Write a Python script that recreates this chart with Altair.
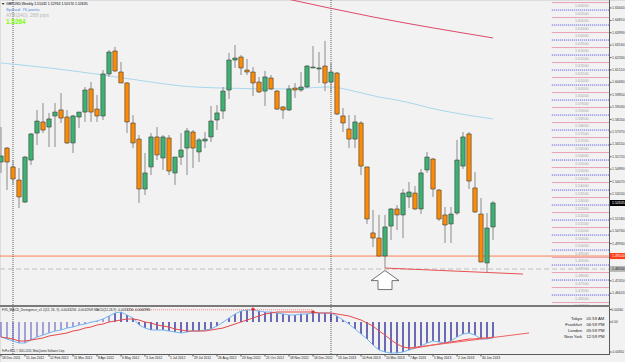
import altair as alt
import pandas as pd

# ---------------- data (bar 0 = week of 18 Dec 2011, weekly bars) ----------------
OPEN = [1.5537, 1.5630, 1.5504, 1.5417, 1.5270, 1.5550, 1.5730, 1.5804, 1.5770, 1.5844,
        1.5884, 1.5837, 1.5664, 1.5837, 1.5870, 1.6024, 1.5890, 1.5844, 1.6124, 1.6277,
        1.6137, 1.6064, 1.5797, 1.5690, 1.5357, 1.5504, 1.5704, 1.5564, 1.5697, 1.5464,
        1.5570, 1.5630, 1.5737, 1.5604, 1.5677, 1.5704, 1.5817, 1.5877, 1.6017, 1.6217,
        1.6237, 1.6150, 1.6137, 1.6070, 1.6010, 1.6097, 1.6010, 1.5904, 1.5884, 1.6030,
        1.6017, 1.6037, 1.6164, 1.6157, 1.6177, 1.6070, 1.6130, 1.5844, 1.5757, 1.5690,
        1.5797, 1.5504, 1.5064, 1.5030, 1.4910, 1.5110, 1.5224, 1.5184, 1.5304, 1.5330,
        1.5224, 1.5484, 1.5557, 1.5350, 1.5184, 1.5124, 1.5197, 1.5510, 1.5724, 1.5364,
        1.5190, 1.4864, 1.5104]
HIGH = [1.5770, 1.5637, 1.5550, 1.5497, 1.5577, 1.5730, 1.5884, 1.5930, 1.5864, 1.5930,
        1.5997, 1.5884, 1.5850, 1.5870, 1.6037, 1.6070, 1.5984, 1.6150, 1.6284, 1.6304,
        1.6204, 1.6070, 1.5850, 1.5717, 1.5597, 1.5730, 1.5770, 1.5717, 1.5717, 1.5570,
        1.5730, 1.5764, 1.5750, 1.5697, 1.5737, 1.5910, 1.5917, 1.6037, 1.6264, 1.6317,
        1.6250, 1.6224, 1.6170, 1.6104, 1.6144, 1.6117, 1.6017, 1.5910, 1.6050, 1.6064,
        1.6137, 1.6184, 1.6310, 1.6270, 1.6344, 1.6197, 1.6137, 1.5897, 1.5850, 1.5850,
        1.5810, 1.5504, 1.5217, 1.5184, 1.5184, 1.5230, 1.5250, 1.5357, 1.5404, 1.5377,
        1.5490, 1.5604, 1.5564, 1.5357, 1.5237, 1.5237, 1.5684, 1.5737, 1.5737, 1.5470,
        1.5297, 1.5197, 1.5277]
LOW = [1.5464, 1.5350, 1.5384, 1.5230, 1.5264, 1.5517, 1.5650, 1.5730, 1.5637, 1.5637,
       1.5797, 1.5657, 1.5597, 1.5764, 1.5804, 1.5804, 1.5804, 1.5817, 1.6104, 1.6137,
       1.6064, 1.5730, 1.5630, 1.5264, 1.5317, 1.5450, 1.5550, 1.5484, 1.5450, 1.5384,
       1.5517, 1.5450, 1.5497, 1.5537, 1.5630, 1.5670, 1.5750, 1.5824, 1.5957, 1.6164,
       1.6117, 1.6117, 1.5977, 1.5997, 1.5910, 1.6017, 1.5884, 1.5824, 1.5877, 1.5964,
       1.6004, 1.6030, 1.6164, 1.6064, 1.6010, 1.5997, 1.5850, 1.5737, 1.5630, 1.5630,
       1.5450, 1.5124, 1.4970, 1.4910, 1.4830, 1.5017, 1.5084, 1.5030, 1.5230, 1.5217,
       1.5190, 1.5464, 1.5304, 1.5144, 1.4997, 1.4997, 1.5184, 1.5490, 1.5357, 1.5197,
       1.4870, 1.4797, 1.5017]
CLOSE = [1.5577, 1.5537, 1.5424, 1.5304, 1.5570, 1.5724, 1.5810, 1.5750, 1.5824, 1.5870,
         1.5830, 1.5664, 1.5844, 1.5870, 1.6017, 1.5870, 1.5844, 1.6124, 1.6270, 1.6144,
         1.6064, 1.5804, 1.5664, 1.5357, 1.5464, 1.5704, 1.5584, 1.5704, 1.5477, 1.5570,
         1.5617, 1.5744, 1.5630, 1.5684, 1.5690, 1.5810, 1.5864, 1.6010, 1.6217, 1.6230,
         1.6164, 1.6137, 1.6064, 1.6004, 1.6104, 1.6024, 1.5890, 1.5884, 1.6024, 1.6017,
         1.6037, 1.6177, 1.6170, 1.6164, 1.6064, 1.6137, 1.5857, 1.5797, 1.5690, 1.5804,
         1.5510, 1.5157, 1.5030, 1.4910, 1.5104, 1.5224, 1.5184, 1.5330, 1.5337, 1.5224,
         1.5464, 1.5570, 1.5357, 1.5157, 1.5117, 1.5190, 1.5550, 1.5704, 1.5410, 1.5204,
         1.4870, 1.5097, 1.5264]

MA_SLOW_BAR = [0, 8, 17, 25, 30, 37, 47, 55, 58, 63, 66, 73, 82]
MA_SLOW_VAL = [1.6197, 1.6164, 1.6117, 1.6070, 1.6044, 1.6030, 1.6024, 1.6037, 1.6017,
               1.5970, 1.5950, 1.5884, 1.5824]
MA_TOP_BAR = [47, 62, 82]
MA_TOP_VAL = [1.6630, 1.6504, 1.6364]
TREND_BAR = [64, 87]
TREND_VAL = [1.4830, 1.4790]
HLINE_ORANGE = [1.4910]
HLINE_GREY = [1.4824]
ARROW_BAR = [64]
ARROW_VAL = [1.4750]
YEAR_SEPARATORS = [2, 55]

LEVELS_SOLID = [1.46, 1.47, 1.48, 1.49, 1.50, 1.51, 1.52, 1.53, 1.54, 1.55, 1.56,
                1.57, 1.58, 1.59, 1.60, 1.61, 1.62, 1.63, 1.64, 1.65, 1.66]
LEVELS_DOTTED = [1.465, 1.475, 1.485, 1.495, 1.505, 1.515, 1.525, 1.535, 1.545, 1.555,
                 1.565, 1.575, 1.585, 1.595, 1.605, 1.615, 1.625, 1.635, 1.645, 1.655]

PRICE_TICKS = [1.6564, 1.6481, 1.6399, 1.6316, 1.6233, 1.6151, 1.6068, 1.5985, 1.5903,
               1.5820, 1.5737, 1.5655, 1.5572, 1.5489, 1.5407, 1.5324, 1.5158, 1.5076,
               1.4993, 1.4745, 1.4662]
TAG_PRICES = [1.52635, 1.4910, 1.4824]
TAG_TEXTS = ["1.52635", "1.49100", "1.48240"]

DATE_TICK_BARS = [0, 4, 8, 12, 16, 20, 24, 28, 32, 36, 40, 44, 48, 52, 56, 60, 64, 68, 72, 76, 80]
DATE_LABELS = ["18 Dec 2011", "15 Jan 2012", "12 Feb 2012", "11 Mar 2012", "8 Apr 2012",
               "6 May 2012", "3 Jun 2012", "1 Jul 2012", "29 Jul 2012", "26 Aug 2012",
               "23 Sep 2012", "21 Oct 2012", "18 Nov 2012", "16 Dec 2012", "13 Jan 2013",
               "10 Feb 2013", "10 Mar 2013", "7 Apr 2013", "5 May 2013", "2 Jun 2013",
               "30 Jun 2013"]

MACD = [-0.00405, -0.00459, -0.00513, -0.00567, -0.00567, -0.00486, -0.00405, -0.00351, -0.00297, -0.00243,
        -0.00216, -0.00162, -0.00135, -0.00081, -0.00054, -0.00005, 0.00027, 0.00081, 0.00162, 0.00243,
        0.00270, 0.00189, 0.00108, -0.00081, -0.00162, -0.00216, -0.00216, -0.00216, -0.00243, -0.00270,
        -0.00297, -0.00270, -0.00243, -0.00243, -0.00216, -0.00189, -0.00108, -0.00005, 0.00108, 0.00216,
        0.00297, 0.00324, 0.00324, 0.00297, 0.00270, 0.00270, 0.00243, 0.00216, 0.00189, 0.00189,
        0.00216, 0.00216, 0.00243, 0.00243, 0.00243, 0.00243, 0.00162, 0.00054, -0.00054, -0.00189,
        -0.00324, -0.00459, -0.00621, -0.00756, -0.00810, -0.00837, -0.00837, -0.00810, -0.00756, -0.00702,
        -0.00648, -0.00567, -0.00513, -0.00540, -0.00567, -0.00513, -0.00405, -0.00324, -0.00297, -0.00351,
        -0.00459, -0.00459, -0.00432]
SIGNAL = [-0.00405, -0.00432, -0.00459, -0.00513, -0.00513, -0.00486, -0.00459, -0.00432, -0.00378, -0.00351,
          -0.00324, -0.00297, -0.00243, -0.00216, -0.00162, -0.00135, -0.00081, -0.00054, 0.00000, 0.00027,
          0.00054, 0.00081, 0.00081, 0.00054, 0.00000, -0.00027, -0.00081, -0.00108, -0.00135, -0.00189,
          -0.00216, -0.00243, -0.00243, -0.00243, -0.00243, -0.00216, -0.00189, -0.00162, -0.00108, -0.00054,
          0.00000, 0.00054, 0.00108, 0.00162, 0.00216, 0.00243, 0.00270, 0.00270, 0.00270, 0.00270,
          0.00270, 0.00270, 0.00270, 0.00243, 0.00243, 0.00243, 0.00216, 0.00189, 0.00162, 0.00108,
          0.00054, -0.00027, -0.00108, -0.00243, -0.00351, -0.00486, -0.00594, -0.00675, -0.00702, -0.00702,
          -0.00675, -0.00648, -0.00621, -0.00594, -0.00567, -0.00540, -0.00513, -0.00486, -0.00459, -0.00459,
          -0.00432, -0.00432, -0.00405]
MACD_TREND_BAR = [68, 88]
MACD_TREND_VAL = [-0.00702, -0.00297]
DIV_LINE_BAR = [21, 52]
DIV_LINE_VAL = [0.00330, 0.00330]
DIV_MARK_BAR = [42, 52]
DIV_MARK_VAL = [0.00345, 0.00270]
MACD_TICKS = [0.0034, 0.0, -0.0081]
MACD_TICK_LABELS = ["0.00340", "0.00", "-0.00810"]

HEADER = "GBPUSD,Weekly  1.51032 1.52763 1.50170 1.52635"
SPREAD = "Spread: 76 points"
ATR = "ATR(240): 288 pips"
BID = "1.5264"
MACD_TITLE = "FX5_MACD_Divergence_v1.1(12, 26, 9) -0.0043256 -0.0042909 MACD(12,26,9) -0.0043256 -0.0042985"
COPYRIGHT = "FxPro MT4, \u00a9 2001-2013, MetaQuotes Software Corp."
CITIES = ["Tokyo", "Frankfurt", "London", "New York"]
TIMES = ["01:59 AM", "06:59 PM", "05:59 PM", "12:59 PM"]

# ---------------- styles / layout (pixels) ----------------
FONT = "Liberation Sans"
GREEN = "#3CB371"
ORANGE = "#FF8C00"
AXIS_COLOR = "#5A5A5A"
TAG_BG = ["#000000", "#FF3C14", "#B8B8B8"]
TAG_FG = ["#FFFFFF", "#FFFFFF", "#222222"]
W = 609            # right edge of plot panes
H_MAIN = 305       # main pane 0..305
M_TOP = 307        # indicator pane 307..354
M_BOT = 354
XS = alt.Scale(domain=[-1 / 6, 608 / 6], range=[0, W], nice=False, zero=False)
YS = alt.Scale(domain=[1.6617 - H_MAIN / 1500, 1.6617], range=[H_MAIN, 0], nice=False, zero=False)
MS = alt.Scale(domain=[-0.00864, 0.00405], range=[M_BOT, M_TOP], nice=False, zero=False)


def X(field):
    return alt.X(field, type="quantitative", scale=XS, axis=None)


def Y(field):
    return alt.Y(field, type="quantitative", scale=YS, axis=None)


def M(field):
    return alt.Y(field, type="quantitative", scale=MS, axis=None)


def PY(expr):
    return alt.Y("ypx:Q", scale=None, axis=None)


def label(txt, x, y, size, color, weight="normal", align="left"):
    return alt.Chart(pd.DataFrame({"t": [txt]})).transform_calculate(ypx=str(y)).mark_text(
        font=FONT, fontSize=size, color=color, fontWeight=weight, align=align,
        baseline="middle").encode(x=alt.value(x), y=alt.Y("ypx:Q", scale=None, axis=None), text="t:N")


one = pd.DataFrame({"a": [0]})
cdf = pd.DataFrame({"i": list(range(len(OPEN))), "o": OPEN, "h": HIGH, "l": LOW, "c": CLOSE})
sep_df = pd.DataFrame({"i": YEAR_SEPARATORS})
layers = []

# ---- level lines at right ----
solid_df = pd.DataFrame({"p": LEVELS_SOLID})
dotted_df = pd.DataFrame({"p": LEVELS_DOTTED})
lab_df = pd.DataFrame({"p": LEVELS_SOLID + LEVELS_DOTTED})
layers.append(alt.Chart(solid_df).transform_calculate(x0="91.8", x1="101.33").mark_rule(
    color="#E8A2B8", strokeWidth=1).encode(x=X("x0"), x2="x1:Q", y=Y("p")))
layers.append(alt.Chart(dotted_df).transform_calculate(x0="91.8", x1="101.33").mark_rule(
    color="#4A4AE6", strokeWidth=1, strokeDash=[1, 1]).encode(x=X("x0"), x2="x1:Q", y=Y("p")))
layers.append(alt.Chart(lab_df).transform_calculate(xt="96.8").mark_text(
    font=FONT, fontSize=3.8, color="#A8A8A8", align="center", dy=3.6).encode(
    x=X("xt"), y=Y("p"), text=alt.Text("p:Q", format=".5f")))

# ---- horizontal lines ----
layers.append(alt.Chart(pd.DataFrame({"p": HLINE_GREY})).mark_rule(
    color="#CFCFCF", strokeWidth=1.5, strokeDash=[5, 3]).encode(
    x=alt.value(0), x2=alt.value(W), y=Y("p")))
layers.append(alt.Chart(pd.DataFrame({"p": HLINE_ORANGE})).mark_rule(
    color="#FF8050", strokeWidth=1).encode(x=alt.value(0), x2=alt.value(W), y=Y("p")))

# ---- year separators (both panes) ----
layers.append(alt.Chart(sep_df).mark_rule(color="#404040", strokeWidth=0.8, strokeDash=[1, 1]).encode(
    x=X("i"), y=alt.value(0), y2=alt.value(H_MAIN)))
layers.append(alt.Chart(sep_df).mark_rule(color="#404040", strokeWidth=0.8, strokeDash=[1, 1]).encode(
    x=X("i"), y=alt.value(M_TOP), y2=alt.value(M_BOT)))

# ---- moving averages / trend line ----
layers.append(alt.Chart(pd.DataFrame({"i": MA_SLOW_BAR, "p": MA_SLOW_VAL})).mark_line(
    color="#A8D8EE", strokeWidth=1, clip=True, interpolate="monotone").encode(x=X("i"), y=Y("p")))
layers.append(alt.Chart(pd.DataFrame({"i": MA_TOP_BAR, "p": MA_TOP_VAL})).mark_line(
    color="#DC4A6A", strokeWidth=1, clip=True, interpolate="monotone").encode(x=X("i"), y=Y("p")))
layers.append(alt.Chart(pd.DataFrame({"i": TREND_BAR, "p": TREND_VAL})).mark_line(
    color="#E85050", strokeWidth=1, clip=True).encode(x=X("i"), y=Y("p")))

# ---- candles ----
layers.append(alt.Chart(cdf).mark_rule(color="#8A8A8A", strokeWidth=1).encode(
    x=X("i"), y=Y("l"), y2="h:Q"))
layers.append(alt.Chart(cdf).transform_calculate(
    x0="datum.i - 0.36", x1="datum.i + 0.36",
    top="max(datum.o, datum.c)", bot="min(datum.o, datum.c)").mark_rect(
    stroke="#3C3C3C", strokeWidth=0.6).encode(
    x=X("x0"), x2="x1:Q", y=Y("bot"), y2="top:Q",
    color=alt.condition("datum.c >= datum.o", alt.value(GREEN), alt.value(ORANGE))))

ARROW_PATH = "M0,-0.68 L1,0.04 L0.5,0.04 L0.5,0.68 L-0.5,0.68 L-0.5,0.04 L-1,0.04 Z"
layers.append(alt.Chart(pd.DataFrame({"i": ARROW_BAR, "p": ARROW_VAL})).mark_point(
    shape=ARROW_PATH, size=784, filled=True, fill="#FFFFFF", stroke="#505050",
    strokeWidth=0.8, opacity=1).encode(x=X("i"), y=Y("p")))

# ---- right price axis (drawn as marks) ----
tick_df = pd.DataFrame({"p": PRICE_TICKS})
layers.append(alt.Chart(one).mark_rule(color=AXIS_COLOR, strokeWidth=1).encode(
    x=alt.value(W + 0.5), y=alt.value(0), y2=alt.value(H_MAIN)))
layers.append(alt.Chart(tick_df).mark_rule(color=AXIS_COLOR, strokeWidth=1).encode(
    x=alt.value(W), x2=alt.value(W + 2.5), y=Y("p")))
layers.append(alt.Chart(tick_df).mark_text(font=FONT, fontSize=3.5, color="#333333",
                                           align="left", baseline="middle").encode(
    x=alt.value(W + 3), y=Y("p"), text=alt.Text("p:Q", format=".5f")))

tag_df = pd.DataFrame({"p": TAG_PRICES, "t": TAG_TEXTS, "k": [0, 1, 2]})
for k in range(len(TAG_PRICES)):
    layers.append(alt.Chart(tag_df).transform_filter(f"datum.k == {k}").mark_rule(
        strokeWidth=6, strokeCap="butt", color=TAG_BG[k]).encode(
        x=alt.value(W + 1), x2=alt.value(625), y=Y("p")))
    layers.append(alt.Chart(tag_df).transform_filter(f"datum.k == {k}").mark_text(
        font=FONT, fontSize=3.5, align="left", baseline="middle", color=TAG_FG[k]).encode(
        x=alt.value(W + 3), y=Y("p"), text="t:N"))

# ---- header texts ----
layers.append(label("\u25bc", 1.2, 4, 3.6, "#000000"))
layers.append(label(HEADER, 6, 4, 3.5, "#000000"))
layers.append(label(SPREAD, 6, 9.5, 4.3, "#4F8FDF"))
layers.append(label(ATR, 6, 15, 5.0, "#B8B8B8"))
layers.append(label(BID, 6, 21.5, 6.4, "#7CFC00", weight="bold"))

# ---- pane separator ----
layers.append(alt.Chart(one).mark_rule(color="#7A7A7A", strokeWidth=2).encode(
    x=alt.value(0), x2=alt.value(W + 1), y=alt.value(H_MAIN + 1)))

# ---------------- MACD pane ----------------
mdf = pd.DataFrame({"i": list(range(len(MACD))), "m": MACD, "s": SIGNAL})
layers.append(alt.Chart(mdf).transform_calculate(z="0").mark_rule(strokeWidth=1.2).encode(
    x=X("i"), y=M("z"), y2="m:Q",
    color=alt.condition("datum.i <= 18", alt.value("#6C6CC4"), alt.value("#10108C"))))
layers.append(alt.Chart(mdf).mark_line(color="#74B4F0", strokeWidth=1).encode(x=X("i"), y=M("m")))
layers.append(alt.Chart(mdf).mark_line(color="#E84848", strokeWidth=1).encode(x=X("i"), y=M("s")))
layers.append(alt.Chart(pd.DataFrame({"i": MACD_TREND_BAR, "v": MACD_TREND_VAL})).mark_line(
    color="#F06060", strokeWidth=1).encode(x=X("i"), y=M("v")))
layers.append(alt.Chart(pd.DataFrame({"i": DIV_LINE_BAR, "v": DIV_LINE_VAL})).mark_line(
    color="#F08080", strokeWidth=1, strokeDash=[1, 1]).encode(x=X("i"), y=M("v")))
layers.append(alt.Chart(pd.DataFrame({"i": DIV_MARK_BAR, "v": DIV_MARK_VAL})).mark_point(
    shape="cross", size=12, filled=True, color="#E02020", opacity=1).encode(x=X("i"), y=M("v")))

mt_df = pd.DataFrame({"v": MACD_TICKS, "t": MACD_TICK_LABELS})
layers.append(alt.Chart(one).mark_rule(color=AXIS_COLOR, strokeWidth=1).encode(
    x=alt.value(W + 0.5), y=alt.value(M_TOP), y2=alt.value(M_BOT)))
layers.append(alt.Chart(mt_df).mark_rule(color=AXIS_COLOR, strokeWidth=1).encode(
    x=alt.value(W), x2=alt.value(W + 2.5), y=M("v")))
layers.append(alt.Chart(mt_df).mark_text(font=FONT, fontSize=3.2, color="#333333",
                                         align="left", baseline="middle").encode(
    x=alt.value(W + 2.5), y=M("v"), text="t:N"))

# bottom date axis
date_df = pd.DataFrame({"i": DATE_TICK_BARS, "t": DATE_LABELS})
layers.append(alt.Chart(one).mark_rule(color=AXIS_COLOR, strokeWidth=1).encode(
    x=alt.value(0), x2=alt.value(W + 1), y=alt.value(M_BOT + 0.5)))
layers.append(alt.Chart(date_df).mark_rule(color=AXIS_COLOR, strokeWidth=1).encode(
    x=X("i"), y=alt.value(M_BOT), y2=alt.value(M_BOT + 2.5)))
layers.append(alt.Chart(date_df).transform_calculate(ypx=str(M_BOT + 4.3)).mark_text(
    font=FONT, fontSize=3.3, color="#222222", align="left", baseline="middle", dx=1).encode(
    x=X("i"), y=alt.Y("ypx:Q", scale=None, axis=None), text="t:N"))

layers.append(label(MACD_TITLE, 2, M_TOP + 3, 3.2, "#222222"))
layers.append(label(COPYRIGHT, 2, M_TOP + 44, 2.6, "#222222"))
city_df = pd.DataFrame({"city": CITIES, "time": TIMES, "k": [0, 1, 2, 3]})
layers.append(alt.Chart(city_df).transform_calculate(ypx=f"{M_TOP + 12.3} + 5.8 * datum.k").mark_text(
    font=FONT, fontSize=4.2, color="#222222", align="right", baseline="middle").encode(
    x=alt.value(582), y=alt.Y("ypx:Q", scale=None, axis=None), text="city:N"))
layers.append(alt.Chart(city_df).transform_calculate(ypx=f"{M_TOP + 12.3} + 5.8 * datum.k").mark_text(
    font=FONT, fontSize=4.2, color="#222222", align="left", baseline="middle").encode(
    x=alt.value(586.5), y=alt.Y("ypx:Q", scale=None, axis=None), text="time:N"))

chart = alt.layer(*layers).resolve_scale(y="independent").properties(
    width=625, height=362, background="#F2F2F2",
    autosize=alt.AutoSizeParams(type="none"),
    padding={"left": 0, "top": 0, "right": 0, "bottom": 0}
).configure_view(stroke=None).configure(font=FONT)

chart.save("out.html", embed_options={"renderer": "svg", "actions": False})
